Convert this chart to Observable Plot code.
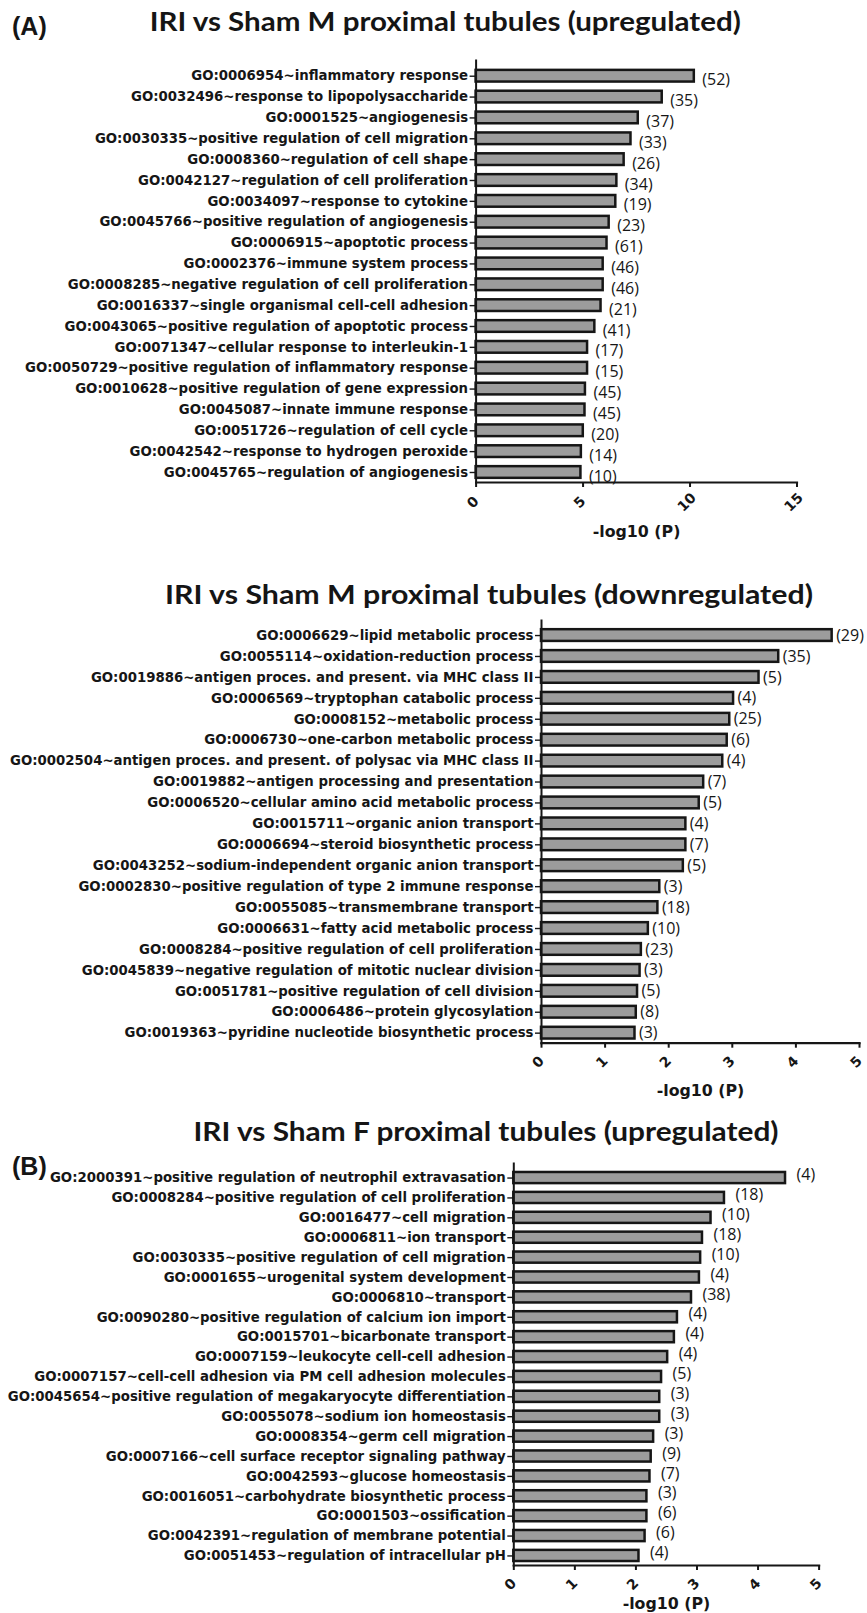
<!DOCTYPE html>
<html>
<head>
<meta charset="utf-8">
<script src="https://cdn.jsdelivr.net/npm/d3@7"></script>
<script src="https://cdn.jsdelivr.net/npm/@observablehq/plot@0.6"></script>
<style>
  body { margin: 0; background: #fff; }
  #page { position: relative; width: 867px; height: 1613px; overflow: hidden; background: #fff; }
  .panel { position: absolute; left: 0; }
  .title { position: absolute; font-family: Lato, "Open Sans", sans-serif; font-weight: 700; font-size: 26px; color: #151515; white-space: nowrap; line-height: 1; transform-origin: 50% 50%; }
  .tag { position: absolute; font-family: "Liberation Sans", Arial, sans-serif; font-weight: 700; font-size: 25px; color: #151515; line-height: 1; transform: translateY(-50%); }
</style>
</head>
<body>
<div id="page"></div>
<script>
// ---- IRI vs Sham M proximal tubules (upregulated) ----
const upMTerms = [
  "GO:0006954~inflammatory response",
  "GO:0032496~response to lipopolysaccharide",
  "GO:0001525~angiogenesis",
  "GO:0030335~positive regulation of cell migration",
  "GO:0008360~regulation of cell shape",
  "GO:0042127~regulation of cell proliferation",
  "GO:0034097~response to cytokine",
  "GO:0045766~positive regulation of angiogenesis",
  "GO:0006915~apoptotic process",
  "GO:0002376~immune system process",
  "GO:0008285~negative regulation of cell proliferation",
  "GO:0016337~single organismal cell-cell adhesion",
  "GO:0043065~positive regulation of apoptotic process",
  "GO:0071347~cellular response to interleukin-1",
  "GO:0050729~positive regulation of inflammatory response",
  "GO:0010628~positive regulation of gene expression",
  "GO:0045087~innate immune response",
  "GO:0051726~regulation of cell cycle",
  "GO:0042542~response to hydrogen peroxide",
  "GO:0045765~regulation of angiogenesis"
];
const upMLogP = [10.2, 8.7, 7.58, 7.24, 6.92, 6.58, 6.53, 6.22, 6.12, 5.94, 5.94, 5.84, 5.55, 5.21, 5.21, 5.11, 5.09, 5.01, 4.92, 4.9];
const upMCounts = [52, 35, 37, 33, 26, 34, 19, 23, 61, 46, 46, 21, 41, 17, 15, 45, 45, 20, 14, 10];
const upMTicks = [0, 5, 10, 15];

// ---- IRI vs Sham M proximal tubules (downregulated) ----
const downMTerms = [
  "GO:0006629~lipid metabolic process",
  "GO:0055114~oxidation-reduction process",
  "GO:0019886~antigen proces. and present. via MHC class II",
  "GO:0006569~tryptophan catabolic process",
  "GO:0008152~metabolic process",
  "GO:0006730~one-carbon metabolic process",
  "GO:0002504~antigen proces. and present. of polysac via MHC class II",
  "GO:0019882~antigen processing and presentation",
  "GO:0006520~cellular amino acid metabolic process",
  "GO:0015711~organic anion transport",
  "GO:0006694~steroid biosynthetic process",
  "GO:0043252~sodium-independent organic anion transport",
  "GO:0002830~positive regulation of type 2 immune response",
  "GO:0055085~transmembrane transport",
  "GO:0006631~fatty acid metabolic process",
  "GO:0008284~positive regulation of cell proliferation",
  "GO:0045839~negative regulation of mitotic nuclear division",
  "GO:0051781~positive regulation of cell division",
  "GO:0006486~protein glycosylation",
  "GO:0019363~pyridine nucleotide biosynthetic process"
];
const downMLogP = [4.57, 3.73, 3.42, 3.02, 2.96, 2.92, 2.85, 2.55, 2.48, 2.27, 2.27, 2.23, 1.86, 1.83, 1.68, 1.57, 1.55, 1.51, 1.49, 1.47];
const downMCounts = [29, 35, 5, 4, 25, 6, 4, 7, 5, 4, 7, 5, 3, 18, 10, 23, 3, 5, 8, 3];
const downMTicks = [0, 1, 2, 3, 4, 5];

// ---- IRI vs Sham F proximal tubules (upregulated) ----
const upFTerms = [
  "GO:2000391~positive regulation of neutrophil extravasation",
  "GO:0008284~positive regulation of cell proliferation",
  "GO:0016477~cell migration",
  "GO:0006811~ion transport",
  "GO:0030335~positive regulation of cell migration",
  "GO:0001655~urogenital system development",
  "GO:0006810~transport",
  "GO:0090280~positive regulation of calcium ion import",
  "GO:0015701~bicarbonate transport",
  "GO:0007159~leukocyte cell-cell adhesion",
  "GO:0007157~cell-cell adhesion via PM cell adhesion molecules",
  "GO:0045654~positive regulation of megakaryocyte differentiation",
  "GO:0055078~sodium ion homeostasis",
  "GO:0008354~germ cell migration",
  "GO:0007166~cell surface receptor signaling pathway",
  "GO:0042593~glucose homeostasis",
  "GO:0016051~carbohydrate biosynthetic process",
  "GO:0001503~ossification",
  "GO:0042391~regulation of membrane potential",
  "GO:0051453~regulation of intracellular pH"
];
const upFLogP = [4.45, 3.45, 3.23, 3.09, 3.06, 3.04, 2.91, 2.68, 2.63, 2.52, 2.42, 2.39, 2.39, 2.29, 2.25, 2.23, 2.18, 2.18, 2.15, 2.05];
const upFCounts = [4, 18, 10, 18, 10, 4, 38, 4, 4, 4, 5, 3, 3, 3, 9, 7, 3, 6, 6, 4];
const upFTicks = [0, 1, 2, 3, 4, 5];

const INK = "#161616";
const LABEL_FONT = "DejaVu Sans";

function goBarChart({terms, logp, counts, ticks, height, marginLeft, marginRight, yRange, countDx, countDy, tickDy, axisLabelDy}) {
  const rows = terms.map((term, i) => ({term, p: logp[i], n: counts[i]}));
  const xMax = ticks[ticks.length - 1];
  return Plot.plot({
    width: 867,
    height,
    marginTop: 60,
    marginBottom: height - yRange[1],
    marginLeft,
    marginRight,
    style: {fontFamily: LABEL_FONT, fontSize: "13.3px", fontWeight: "bold", color: INK, background: "transparent", overflow: "visible"},
    x: {domain: [0, xMax], axis: null},
    y: {domain: terms, range: yRange, round: false, paddingInner: 0.44, paddingOuter: 0.2, axis: null},
    marks: [
      Plot.barX(rows, {x: "p", y: "term", fill: "#9c9c9c", stroke: INK, strokeWidth: 2.5}),
      Plot.axisY({tickSize: 6, tickPadding: 2, color: INK, strokeWidth: 1.4, label: null}),
      Plot.frame({anchor: "left", stroke: INK, strokeWidth: 2}),
      Plot.frame({anchor: "bottom", stroke: INK, strokeWidth: 2.2}),
      Plot.axisX({ticks, tickSize: 5, tickFormat: () => "", color: INK, strokeWidth: 2, label: null}),
      Plot.text(ticks, {x: d => d, text: d => String(d), frameAnchor: "bottom", dy: tickDy, rotate: -45, fontSize: 14, fontWeight: "bold", fill: INK}),
      Plot.text(["-log10 (P)"], {text: d => d, frameAnchor: "bottom", dy: axisLabelDy, fontSize: 15.8, fontWeight: "bold", fill: INK}),
      Plot.text(rows, {x: "p", y: "term", text: d => `(${d.n})`, textAnchor: "start", dx: countDx, dy: countDy, fontFamily: "Open Sans", fontWeight: "normal", fontSize: 16, fill: INK})
    ]
  });
}

const page = document.getElementById("page");

function place(el, top) {
  el.classList.add("panel");
  el.style.top = top + "px";
  page.appendChild(el);
}

// Panel heading, centred on (cx, cy) and fitted to the given width
function addTitle(text, cx, cy, width) {
  const d = document.createElement("div");
  d.className = "title";
  d.textContent = text;
  page.appendChild(d);
  const r = d.getBoundingClientRect();
  d.style.left = (cx - r.width / 2) + "px";
  d.style.top = (cy - r.height / 2) + "px";
  d.style.transform = `scaleX(${width / r.width})`;
}

function addTag(text, x, cy) {
  const d = document.createElement("div");
  d.className = "tag";
  d.textContent = text;
  d.style.left = x + "px";
  d.style.top = cy + "px";
  page.appendChild(d);
}

place(goBarChart({
  terms: upMTerms, logp: upMLogP, counts: upMCounts, ticks: upMTicks,
  height: 548, marginLeft: 475.6, marginRight: 70.5, yRange: [65.7, 482],
  countDx: 8, countDy: 4, tickDy: 23, axisLabelDy: 54
}), 0);

place(goBarChart({
  terms: downMTerms, logp: downMLogP, counts: downMCounts, ticks: downMTicks,
  height: 545, marginLeft: 541, marginRight: 8, yRange: [65, 482.7],
  countDx: 4, countDy: 0, tickDy: 22, axisLabelDy: 53
}), 560);

place(goBarChart({
  terms: upFTerms, logp: upFLogP, counts: upFCounts, ticks: upFTicks,
  height: 510, marginLeft: 513.3, marginRight: 48.4, yRange: [65, 462],
  countDx: 11, countDy: -3, tickDy: 22, axisLabelDy: 43
}), 1103);

addTitle("IRI vs Sham M proximal tubules (upregulated)", 445, 21, 591);
addTitle("IRI vs Sham M proximal tubules (downregulated)", 489, 594, 648);
addTitle("IRI vs Sham F proximal tubules (upregulated)", 486, 1131, 585);
addTag("(A)", 12, 26);
addTag("(B)", 12, 1166);
</script>
</body>
</html>
